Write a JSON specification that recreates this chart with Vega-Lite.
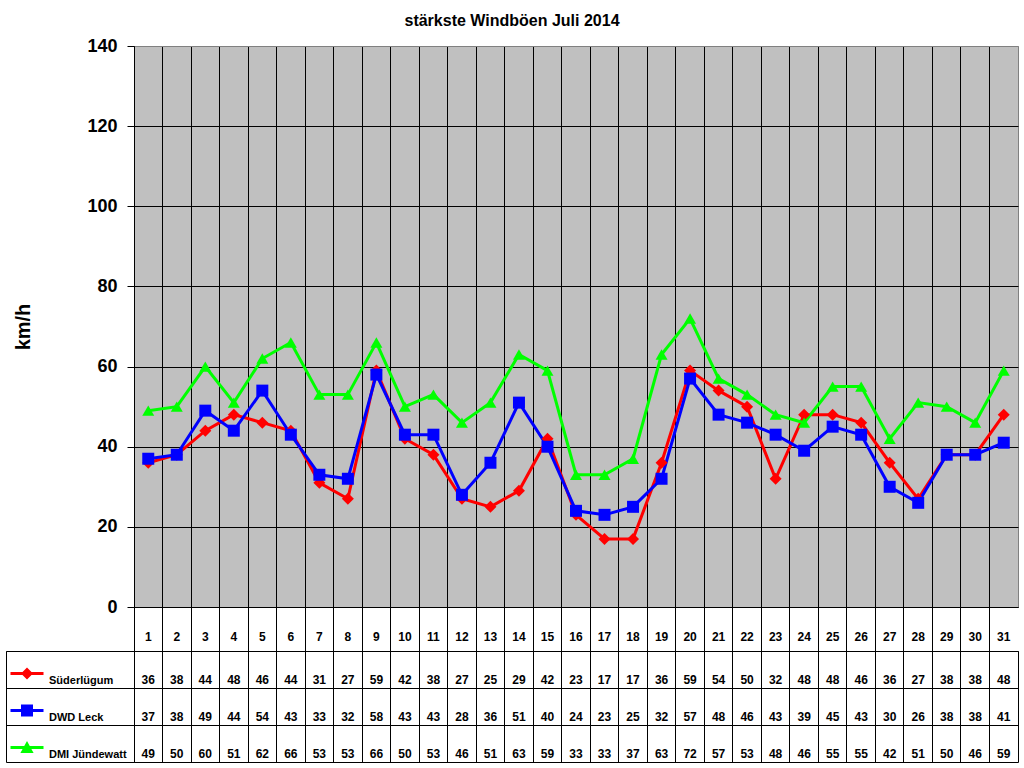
{
  "$schema": "https://vega.github.io/schema/vega-lite/v6.json",
  "padding": {"left": 5, "top": 12, "right": 5, "bottom": 5},
  "background": "white",
  "title": {"text": "stärkste Windböen Juli 2014", "font": "Liberation Sans", "fontSize": 16, "fontWeight": "bold", "color": "black", "anchor": "middle", "offset": 8},
  "config": {
    "font": "Liberation Sans",
    "axis": {"gridColor": "black", "gridOpacity": 1, "domainColor": "black", "tickColor": "black", "labelColor": "black", "titleColor": "black"}
  },
  "datasets": {
    "wind": [
      {"day": 1, "series": "Süderlügum", "value": 36}, {"day": 2, "series": "Süderlügum", "value": 38}, {"day": 3, "series": "Süderlügum", "value": 44}, {"day": 4, "series": "Süderlügum", "value": 48},
      {"day": 5, "series": "Süderlügum", "value": 46}, {"day": 6, "series": "Süderlügum", "value": 44}, {"day": 7, "series": "Süderlügum", "value": 31}, {"day": 8, "series": "Süderlügum", "value": 27},
      {"day": 9, "series": "Süderlügum", "value": 59}, {"day": 10, "series": "Süderlügum", "value": 42}, {"day": 11, "series": "Süderlügum", "value": 38}, {"day": 12, "series": "Süderlügum", "value": 27},
      {"day": 13, "series": "Süderlügum", "value": 25}, {"day": 14, "series": "Süderlügum", "value": 29}, {"day": 15, "series": "Süderlügum", "value": 42}, {"day": 16, "series": "Süderlügum", "value": 23},
      {"day": 17, "series": "Süderlügum", "value": 17}, {"day": 18, "series": "Süderlügum", "value": 17}, {"day": 19, "series": "Süderlügum", "value": 36}, {"day": 20, "series": "Süderlügum", "value": 59},
      {"day": 21, "series": "Süderlügum", "value": 54}, {"day": 22, "series": "Süderlügum", "value": 50}, {"day": 23, "series": "Süderlügum", "value": 32}, {"day": 24, "series": "Süderlügum", "value": 48},
      {"day": 25, "series": "Süderlügum", "value": 48}, {"day": 26, "series": "Süderlügum", "value": 46}, {"day": 27, "series": "Süderlügum", "value": 36}, {"day": 28, "series": "Süderlügum", "value": 27},
      {"day": 29, "series": "Süderlügum", "value": 38}, {"day": 30, "series": "Süderlügum", "value": 38}, {"day": 31, "series": "Süderlügum", "value": 48},
      {"day": 1, "series": "DWD Leck", "value": 37}, {"day": 2, "series": "DWD Leck", "value": 38}, {"day": 3, "series": "DWD Leck", "value": 49}, {"day": 4, "series": "DWD Leck", "value": 44},
      {"day": 5, "series": "DWD Leck", "value": 54}, {"day": 6, "series": "DWD Leck", "value": 43}, {"day": 7, "series": "DWD Leck", "value": 33}, {"day": 8, "series": "DWD Leck", "value": 32},
      {"day": 9, "series": "DWD Leck", "value": 58}, {"day": 10, "series": "DWD Leck", "value": 43}, {"day": 11, "series": "DWD Leck", "value": 43}, {"day": 12, "series": "DWD Leck", "value": 28},
      {"day": 13, "series": "DWD Leck", "value": 36}, {"day": 14, "series": "DWD Leck", "value": 51}, {"day": 15, "series": "DWD Leck", "value": 40}, {"day": 16, "series": "DWD Leck", "value": 24},
      {"day": 17, "series": "DWD Leck", "value": 23}, {"day": 18, "series": "DWD Leck", "value": 25}, {"day": 19, "series": "DWD Leck", "value": 32}, {"day": 20, "series": "DWD Leck", "value": 57},
      {"day": 21, "series": "DWD Leck", "value": 48}, {"day": 22, "series": "DWD Leck", "value": 46}, {"day": 23, "series": "DWD Leck", "value": 43}, {"day": 24, "series": "DWD Leck", "value": 39},
      {"day": 25, "series": "DWD Leck", "value": 45}, {"day": 26, "series": "DWD Leck", "value": 43}, {"day": 27, "series": "DWD Leck", "value": 30}, {"day": 28, "series": "DWD Leck", "value": 26},
      {"day": 29, "series": "DWD Leck", "value": 38}, {"day": 30, "series": "DWD Leck", "value": 38}, {"day": 31, "series": "DWD Leck", "value": 41},
      {"day": 1, "series": "DMI Jündewatt", "value": 49}, {"day": 2, "series": "DMI Jündewatt", "value": 50}, {"day": 3, "series": "DMI Jündewatt", "value": 60}, {"day": 4, "series": "DMI Jündewatt", "value": 51},
      {"day": 5, "series": "DMI Jündewatt", "value": 62}, {"day": 6, "series": "DMI Jündewatt", "value": 66}, {"day": 7, "series": "DMI Jündewatt", "value": 53}, {"day": 8, "series": "DMI Jündewatt", "value": 53},
      {"day": 9, "series": "DMI Jündewatt", "value": 66}, {"day": 10, "series": "DMI Jündewatt", "value": 50}, {"day": 11, "series": "DMI Jündewatt", "value": 53}, {"day": 12, "series": "DMI Jündewatt", "value": 46},
      {"day": 13, "series": "DMI Jündewatt", "value": 51}, {"day": 14, "series": "DMI Jündewatt", "value": 63}, {"day": 15, "series": "DMI Jündewatt", "value": 59}, {"day": 16, "series": "DMI Jündewatt", "value": 33},
      {"day": 17, "series": "DMI Jündewatt", "value": 33}, {"day": 18, "series": "DMI Jündewatt", "value": 37}, {"day": 19, "series": "DMI Jündewatt", "value": 63}, {"day": 20, "series": "DMI Jündewatt", "value": 72},
      {"day": 21, "series": "DMI Jündewatt", "value": 57}, {"day": 22, "series": "DMI Jündewatt", "value": 53}, {"day": 23, "series": "DMI Jündewatt", "value": 48}, {"day": 24, "series": "DMI Jündewatt", "value": 46},
      {"day": 25, "series": "DMI Jündewatt", "value": 55}, {"day": 26, "series": "DMI Jündewatt", "value": 55}, {"day": 27, "series": "DMI Jündewatt", "value": 42}, {"day": 28, "series": "DMI Jündewatt", "value": 51},
      {"day": 29, "series": "DMI Jündewatt", "value": 50}, {"day": 30, "series": "DMI Jündewatt", "value": 46}, {"day": 31, "series": "DMI Jündewatt", "value": 59}
    ]
  },
  "columns": 2,
  "spacing": {"row": 44, "column": 0},
  "bounds": "flush",
  "align": "each",
  "resolve": {"scale": {"x": "independent", "y": "independent", "color": "independent", "shape": "independent"}},
  "concat": [
    {
      "width": 128,
      "height": 561,
      "view": {"stroke": null},
      "data": {"values": [{}]},
      "mark": {"type": "text"},
      "encoding": {"text": {"value": ""}}
    },
    {
      "width": 884,
      "height": 561,
      "view": {"fill": "#c0c0c0", "stroke": "#808080"},
      "data": {"name": "wind"},
      "encoding": {
        "x": {
          "field": "day",
          "type": "ordinal",
          "scale": {"type": "band", "paddingInner": 0, "paddingOuter": 0},
          "axis": {
            "title": null, "bandPosition": 0, "grid": true, "domain": true, "ticks": true, "tickSize": 44,
            "labelAngle": 0, "labelBaseline": "alphabetic", "labelPadding": -11,
            "labelFontSize": 12, "labelFontWeight": "bold", "labelOverlap": false
          }
        },
        "y": {
          "field": "value",
          "type": "quantitative",
          "scale": {"domain": [0, 140], "nice": false},
          "axis": {
            "title": "km/h", "values": [0, 20, 40, 60, 80, 100, 120, 140], "grid": true,
            "gridColor": {"condition": {"test": "datum.value == 140", "value": "#808080"}, "value": "black"},
            "tickSize": 7, "labelFontSize": 18, "labelFontWeight": "bold", "labelPadding": 10,
            "titleFontSize": 20, "titleFontWeight": "bold", "titlePadding": 53
          }
        },
        "color": {
          "field": "series",
          "type": "nominal",
          "scale": {"domain": ["Süderlügum", "DWD Leck", "DMI Jündewatt"], "range": ["#ff0000", "#0000ff", "#00ff00"]},
          "legend": null
        }
      },
      "layer": [
        {"mark": {"type": "line", "strokeWidth": 3}},
        {
          "mark": {"type": "point", "filled": true, "opacity": 1, "size": 144},
          "encoding": {
            "shape": {
              "field": "series",
              "type": "nominal",
              "scale": {"domain": ["Süderlügum", "DWD Leck", "DMI Jündewatt"], "range": ["diamond", "square", "triangle-up"]},
              "legend": null
            }
          }
        }
      ]
    },
    {
      "width": 128,
      "height": 111,
      "view": {"stroke": "black"},
      "data": {"name": "wind"},
      "transform": [{"filter": "datum.day == 1"}],
      "layer": [
        {
          "mark": {"type": "point", "filled": true, "opacity": 1, "size": 144, "xOffset": -43},
          "encoding": {
            "y": {
              "field": "series", "type": "nominal", "bandPosition": 0.61,
              "scale": {"type": "band", "domain": ["Süderlügum", "DWD Leck", "DMI Jündewatt"], "paddingInner": 0, "paddingOuter": 0},
              "axis": {"title": null, "bandPosition": 0, "grid": true, "labels": false, "ticks": false, "domain": false}
            },
            "color": {
              "field": "series", "type": "nominal",
              "scale": {"domain": ["Süderlügum", "DWD Leck", "DMI Jündewatt"], "range": ["#ff0000", "#0000ff", "#00ff00"]},
              "legend": null
            },
            "shape": {
              "field": "series", "type": "nominal",
              "scale": {
                "domain": ["Süderlügum", "DWD Leck", "DMI Jündewatt"],
                "range": [
                  "M-2.75,-0.25H2.75V0.25H-2.75ZM0,-1L1,0L0,1L-1,0Z",
                  "M-2.75,-0.25H2.75V0.25H-2.75ZM-1,-1H1V1H-1Z",
                  "M-2.75,-0.25H2.75V0.25H-2.75ZM0,-1.1L1.1,0.9H-1.1Z"
                ]
              },
              "legend": null
            }
          }
        },
        {
          "mark": {"type": "text", "align": "left", "dx": -21, "baseline": "alphabetic", "dy": -4, "fontSize": 11, "fontWeight": "bold", "color": "black"},
          "encoding": {
            "y": {
              "field": "series", "type": "nominal", "bandPosition": 1,
              "scale": {"type": "band", "domain": ["Süderlügum", "DWD Leck", "DMI Jündewatt"], "paddingInner": 0, "paddingOuter": 0},
              "axis": {"title": null, "bandPosition": 0, "grid": true, "labels": false, "ticks": false, "domain": false}
            },
            "text": {"field": "series"}
          }
        }
      ]
    },
    {
      "width": 884,
      "height": 111,
      "view": {"stroke": "black"},
      "data": {"name": "wind"},
      "mark": {"type": "text", "fontSize": 12, "fontWeight": "bold", "baseline": "alphabetic", "dy": -4, "color": "black"},
      "encoding": {
        "x": {
          "field": "day", "type": "ordinal",
          "scale": {"type": "band", "paddingInner": 0, "paddingOuter": 0},
          "axis": {"title": null, "bandPosition": 0, "grid": true, "labels": false, "ticks": false, "domain": false}
        },
        "y": {
          "field": "series", "type": "nominal", "bandPosition": 1,
          "scale": {"type": "band", "domain": ["Süderlügum", "DWD Leck", "DMI Jündewatt"], "paddingInner": 0, "paddingOuter": 0},
          "axis": {"title": null, "bandPosition": 0, "grid": true, "labels": false, "ticks": false, "domain": false}
        },
        "text": {"field": "value", "type": "quantitative"}
      }
    }
  ]
}
